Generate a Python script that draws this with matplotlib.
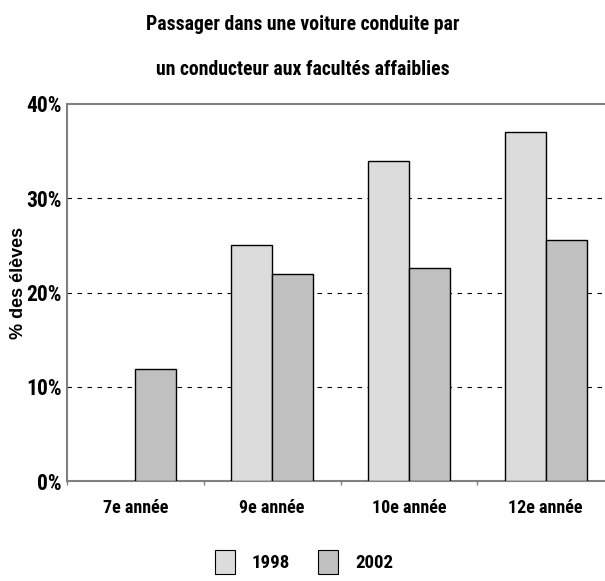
import matplotlib.pyplot as plt
import numpy as np
from matplotlib.patches import Patch

# données (pas de valeur 1998 pour la 7e année)
categories = ["7e année", "9e année", "10e année", "12e année"]
val_1998 = [np.nan, 25.0, 34.0, 37.0]
val_2002 = [11.9, 22.0, 22.6, 25.6]
yticks = [0, 10, 20, 30, 40]
ytick_labels = ["0%", "10%", "20%", "30%", "40%"]

NARROW = ["Roboto Condensed", "Liberation Sans", "DejaVu Sans"]
C1998 = "#dcdcdc"
C2002 = "#c0c0c0"

fig = plt.figure(figsize=(6.05, 5.81), dpi=100)
ax = fig.add_axes([67 / 605, 1 - 481 / 581, 547 / 605, 377 / 581])

x = np.arange(len(categories))
w = 0.3
ax.bar(x - w / 2, val_1998, w, color=C1998, edgecolor="black", linewidth=1.0, zorder=3)
ax.bar(x + w / 2, val_2002, w, color=C2002, edgecolor="black", linewidth=1.0, zorder=3)

ax.set_xlim(-0.5, len(categories) - 0.5)
ax.set_ylim(0, 40)

for y in yticks[1:-1]:
    ax.axhline(y, color="black", linestyle=(0, (4, 5)), linewidth=0.8, zorder=1)

ax.set_yticks(yticks)
ax.set_yticklabels(ytick_labels, family=NARROW, fontweight="bold", fontsize=15.5)
ax.tick_params(axis="y", length=0, pad=4)

# étiquettes des catégories, petits traits entre les groupes
ax.set_xticks(x)
ax.set_xticklabels(categories, family=NARROW, fontweight="bold", fontsize=13)
ax.tick_params(axis="x", length=0, pad=13)
ax.set_xticks(np.arange(len(categories) + 1) - 0.5, minor=True)
ax.tick_params(axis="x", which="minor", length=3, color="#808080", width=1)

for side in ["left", "bottom", "top"]:
    ax.spines[side].set_color("#808080")
    ax.spines[side].set_linewidth(1.5)
ax.spines["right"].set_visible(False)

fig.text(19 / 605, 1 - 283 / 581, "% des élèves", rotation=90, ha="center", va="center",
         family=["Liberation Sans", "DejaVu Sans"], fontweight="bold", fontsize=13)

fig.text(0.5, 1 - 25 / 581, "Passager dans une voiture conduite par",
         ha="center", va="center", family=NARROW, fontweight="bold", fontsize=14.2)
fig.text(0.5, 1 - 70 / 581, "un conducteur aux facultés affaiblies",
         ha="center", va="center", family=NARROW, fontweight="bold", fontsize=14.2)

handles = [Patch(facecolor=C1998, edgecolor="black", linewidth=0.8, label="1998"),
           Patch(facecolor=C2002, edgecolor="black", linewidth=0.8, label="2002")]
fig.legend(handles=handles, loc="center", bbox_to_anchor=(304 / 605, 1 - 562 / 581),
           ncol=2, frameon=False, handlelength=1.05, handleheight=1.5,
           handletextpad=0.9, columnspacing=1.5,
           prop={"family": NARROW, "weight": "bold", "size": 13.6})

fig.savefig("out.png", dpi=100)
